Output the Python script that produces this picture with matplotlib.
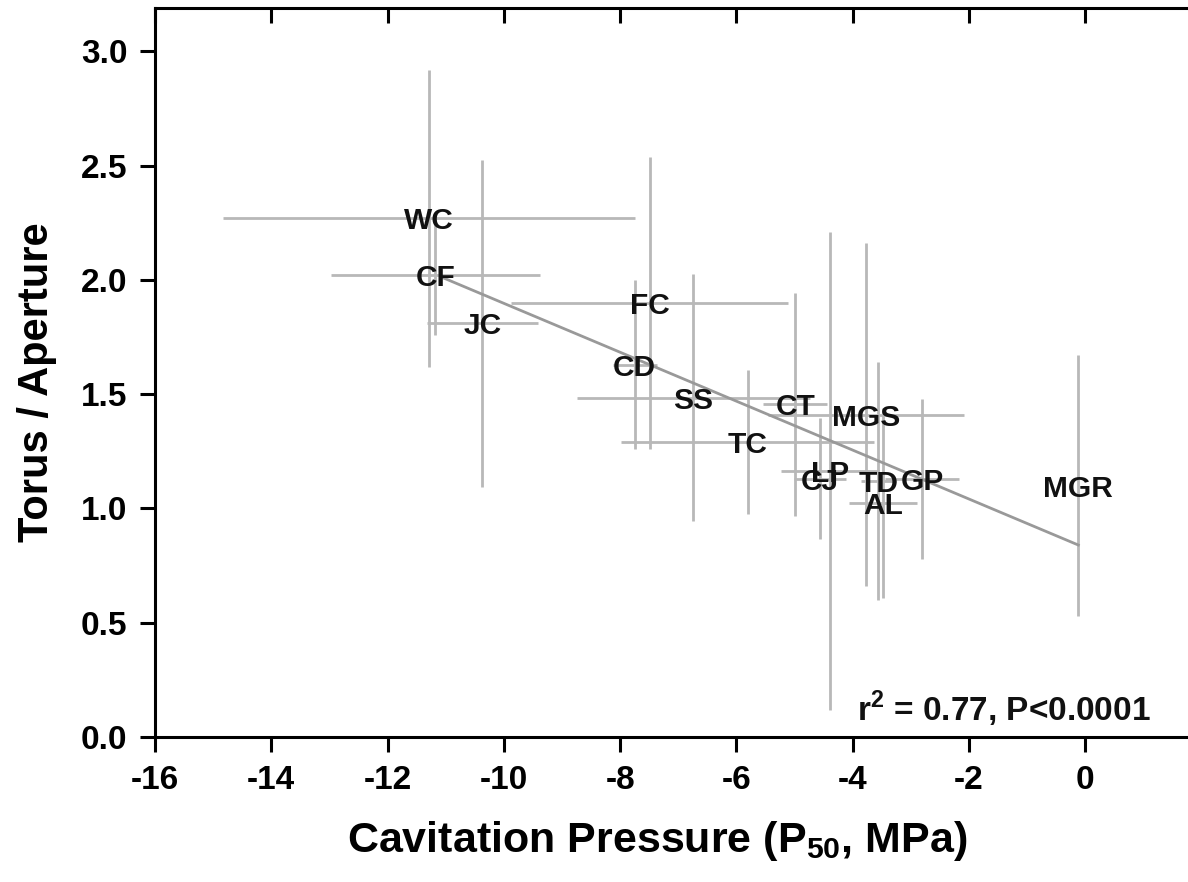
import matplotlib
matplotlib.use('Agg')
from matplotlib import pyplot as plt

# species codes and values
species = ['WC', 'CF', 'JC', 'FC', 'CD', 'SS', 'TC', 'CT', 'MGS',
           'LP', 'CJ', 'TD', 'AL', 'GP', 'MGR']
p50 = [-11.29, -11.18, -10.37, -7.49, -7.75, -6.74, -5.81, -4.99, -3.77,
       -4.39, -4.56, -3.56, -3.48, -2.81, -0.12]
torus_ap = [2.27, 2.02, 1.81, 1.90, 1.63, 1.485, 1.29, 1.455, 1.41,
            1.165, 1.13, 1.12, 1.025, 1.13, 1.10]
p50_err = [3.54, 1.80, 0.96, 2.38, 0.38, 2.00, 2.17, 0.55, 1.68,
           0.84, 0.45, 0.30, 0.58, 0.63, 0.0]
ta_err = [0.65, 0.26, 0.715, 0.64, 0.37, 0.54, 0.315, 0.49, 0.75,
          1.045, 0.265, 0.52, 0.415, 0.35, 0.57]

# regression line end points
fit_x = [-11.05, -0.12]
fit_y = [2.01, 0.84]

xticks = [-16, -14, -12, -10, -8, -6, -4, -2, 0]
yticks = [0.0, 0.5, 1.0, 1.5, 2.0, 2.5, 3.0]

plt.rcParams['font.family'] = ['Liberation Sans', 'DejaVu Sans']
plt.rcParams['font.weight'] = 'bold'
plt.rcParams['mathtext.fontset'] = 'custom'
plt.rcParams['mathtext.bf'] = 'Liberation Sans:bold'
plt.rcParams['mathtext.rm'] = 'Liberation Sans:bold'

fig = plt.figure(figsize=(11.88, 8.82), dpi=100)
ax = fig.add_axes([155 / 1188, 1 - 737 / 882, 1035 / 1188, 729 / 882])

ax.errorbar(p50, torus_ap, xerr=p50_err, yerr=ta_err, fmt='none',
            ecolor='#b8b8b8', elinewidth=2.0, capsize=0, zorder=1)
ax.plot(fit_x, fit_y, color='#999999', lw=2.0, zorder=2)

for name, x, y in zip(species, p50, torus_ap):
    ax.text(x, y, name, ha='center', va='center_baseline', fontsize=21.5,
            fontweight='bold', color='#111111', zorder=3)

ax.text(-1.4, 0.07, r'r$^{\mathbf{2}}$ = 0.77, P<0.0001', ha='center',
        va='baseline', fontsize=24, fontweight='bold', color='#111111')

ax.set_xlim(-16, 1.8)
ax.set_ylim(0, 3.19)
ax.set_xticks(xticks)
ax.set_yticks(yticks)
ax.set_xticklabels([str(t) for t in xticks])
ax.set_yticklabels(['{0:.1f}'.format(t) for t in yticks])

for s in ax.spines.values():
    s.set_linewidth(2.2)
ax.tick_params(axis='both', which='major', labelsize=24, width=2.2,
               length=11, direction='out', pad=9)
ax.tick_params(top=True, right=True)
# inward ticks on top and right sides
for t in ax.xaxis.get_major_ticks():
    t.tick2line.set_marker(3)
for t in ax.yaxis.get_major_ticks():
    t.tick2line.set_marker(1)

ax.set_xlabel(r'Cavitation Pressure (P$_{\mathbf{50}}$, MPa)', fontsize=31,
              fontweight='bold')
ax.set_ylabel('Torus / Aperture', fontsize=30, fontweight='bold')
ax.xaxis.set_label_coords(0.485, -0.112)
ax.yaxis.set_label_coords(-0.095, 0.487)

plt.savefig('out.png', dpi=100)
